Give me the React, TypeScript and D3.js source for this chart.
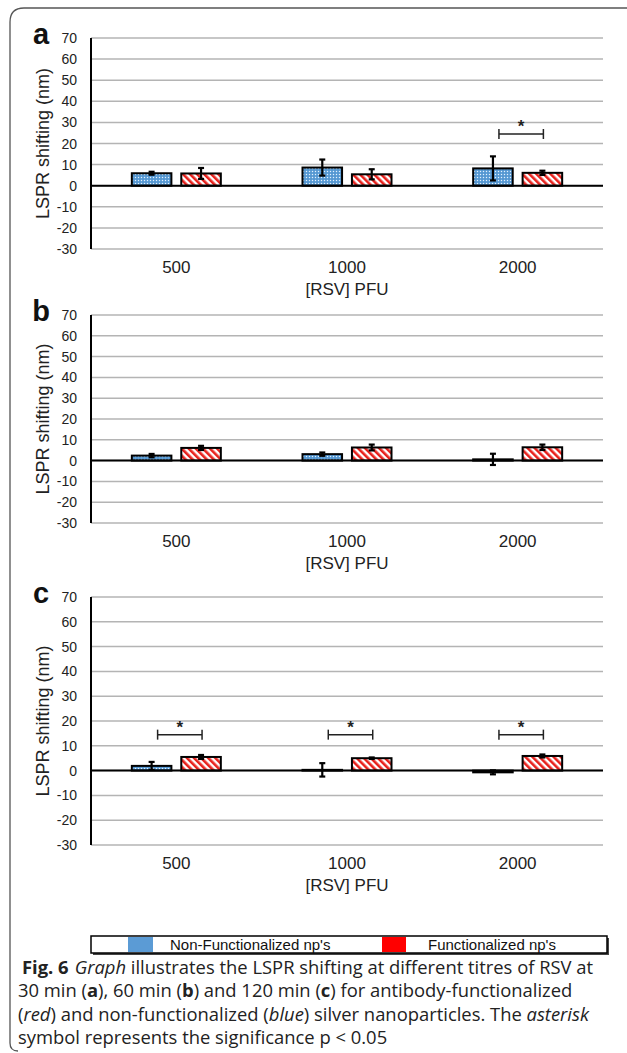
import React from "react";
import * as d3 from "d3";

const categories = ["500", "1000", "2000"];
const seriesNames = ["Non-Functionalized np's", "Functionalized np's"];
const yTicks = [70, 60, 50, 40, 30, 20, 10, 0, -10, -20, -30];

// Panel a (30 min)
const nonFuncA = [5.9, 8.6, 8.2];
const nonFuncAErr = [0.7, 3.8, 5.7];
const funcA = [5.8, 5.4, 6.1];
const funcAErr = [2.6, 2.4, 1.0];
const sigA = ["2000"];
const sigLevelA = 24.5;

// Panel b (60 min)
const nonFuncB = [2.4, 3.1, 0.6];
const nonFuncBErr = [0.8, 0.8, 2.7];
const funcB = [6.1, 6.3, 6.4];
const funcBErr = [1.0, 1.4, 1.3];
const sigB: string[] = [];
const sigLevelB = 0;

// Panel c (120 min)
const nonFuncC = [1.9, 0.3, -0.7];
const nonFuncCErr = [1.6, 2.7, 0.8];
const funcC = [5.5, 5.0, 5.9];
const funcCErr = [0.8, 0.3, 0.6];
const sigC = ["500", "1000", "2000"];
const sigLevelC = 14.5;

const panels = [
  { label: "a", top: 38, bottom: 249, nf: nonFuncA, nfe: nonFuncAErr, f: funcA, fe: funcAErr, sig: sigA, sigLevel: sigLevelA },
  { label: "b", top: 315, bottom: 523, nf: nonFuncB, nfe: nonFuncBErr, f: funcB, fe: funcBErr, sig: sigB, sigLevel: sigLevelB },
  { label: "c", top: 597, bottom: 845, nf: nonFuncC, nfe: nonFuncCErr, f: funcC, fe: funcCErr, sig: sigC, sigLevel: sigLevelC },
];

const FONT = "'Liberation Sans', Arial, Helvetica, sans-serif";
const CAP_FONT = "'Open Sans', 'Noto Sans', sans-serif";
const X0 = 91;
const X1 = 603;

function Panel({ p }: { p: (typeof panels)[number] }) {
  const x = d3.scaleBand<string>().domain(categories).range([X0, X1]).padding(0);
  const bw = x.bandwidth();
  const inner = d3
    .scaleBand<string>()
    .domain(seriesNames)
    .range([bw / 2 - 44.5, bw / 2 + 44.5])
    .paddingInner(0.2);
  const y = d3.scaleLinear().domain([-30, 70]).range([p.bottom, p.top]);
  const barW = inner.bandwidth();
  const rows = categories.map((c, i) => ({
    c,
    vals: [
      { s: seriesNames[0], v: p.nf[i], e: p.nfe[i], fill: "url(#dots)" },
      { s: seriesNames[1], v: p.f[i], e: p.fe[i], fill: "url(#stripes)" },
    ],
  }));
  const mid = (X0 + X1) / 2;
  return (
    <g>
      {yTicks.map((t) => (
        <line key={t} x1={X0} x2={X1} y1={y(t)} y2={y(t)} stroke="#b4b4b4" strokeWidth={1.5} />
      ))}
      {yTicks.map((t) => (
        <text key={"l" + t} x={77} y={y(t)} dy="0.36em" textAnchor="end" fontFamily={FONT} fontSize={14} fill="#222">
          {t}
        </text>
      ))}
      <text
        transform={`translate(43,${(p.top + p.bottom) / 2}) rotate(-90)`}
        textAnchor="middle"
        dy="0.35em"
        fontFamily={FONT}
        fontSize={18}
        fill="#222"
      >
        LSPR shifting (nm)
      </text>
      <text x={41} y={p.top + 6} textAnchor="middle" fontFamily={FONT} fontWeight="bold" fontSize={29} fill="#111">
        {p.label}
      </text>
      {rows.map((r) =>
        r.vals.map((d) => {
          const bx = (x(r.c) as number) + (inner(d.s) as number);
          const y0 = y(0);
          const yv = y(d.v);
          return (
            <rect
              key={r.c + d.s}
              x={bx}
              y={Math.min(y0, yv)}
              width={barW}
              height={Math.abs(y0 - yv)}
              fill={d.fill}
              stroke="#000"
              strokeWidth={2}
            />
          );
        })
      )}
      <line x1={X0} x2={X1} y1={y(0)} y2={y(0)} stroke="#000" strokeWidth={2} />
      {rows.map((r) =>
        r.vals.map((d) => {
          const cx = (x(r.c) as number) + (inner(d.s) as number) + barW / 2;
          const hi = y(d.v + d.e);
          const lo = y(d.v - d.e);
          return (
            <g key={"e" + r.c + d.s} stroke="#000" strokeWidth={2.2}>
              <line x1={cx} x2={cx} y1={hi} y2={lo} />
              <line x1={cx - 3} x2={cx + 3} y1={hi} y2={hi} />
              <line x1={cx - 3} x2={cx + 3} y1={lo} y2={lo} />
            </g>
          );
        })
      )}
      {p.sig.map((c) => {
        const xa = (x(c) as number) + (inner(seriesNames[0]) as number) + barW / 2 + 6;
        const xb = (x(c) as number) + (inner(seriesNames[1]) as number) + barW / 2 + 1;
        const yy = y(p.sigLevel);
        return (
          <g key={"s" + c}>
            <g stroke="#222" strokeWidth={1.5}>
              <line x1={xa} x2={xb} y1={yy} y2={yy} />
              <line x1={xa} x2={xa} y1={yy - 5} y2={yy + 5} />
              <line x1={xb} x2={xb} y1={yy - 5} y2={yy + 5} />
            </g>
            <text x={(xa + xb) / 2} y={yy - 2} textAnchor="middle" fontFamily={FONT} fontWeight="bold" fontSize={17} fill="#222">
              *
            </text>
          </g>
        );
      })}
      <line x1={X0} x2={X0} y1={p.top} y2={p.bottom} stroke="#000" strokeWidth={2} />
      {categories.map((c) => (
        <text
          key={"x" + c}
          x={(x(c) as number) + bw / 2}
          y={p.bottom + 24}
          textAnchor="middle"
          fontFamily={FONT}
          fontSize={17}
          fill="#222"
        >
          {c}
        </text>
      ))}
      <text x={mid} y={p.bottom + 46} textAnchor="middle" fontFamily={FONT} fontSize={17} fill="#222">
        [RSV] PFU
      </text>
    </g>
  );
}

export default function App() {
  React.useEffect(() => {
    document.body.style.margin = "0";
  }, []);
  const capY = 974;
  const lh = 23.3;
  const legY = 936;
  return (
    <svg width={627} height={1053} style={{ position: "absolute", left: 0, top: 0, background: "#fff" }}>
      <defs>
        <pattern id="dots" patternUnits="userSpaceOnUse" width={3} height={3}>
          <rect width={3} height={3} fill="#64a4db" />
          <rect x={0} y={0} width={1} height={1} fill="#e6f0fa" />
          <rect x={1.5} y={1.5} width={1} height={1} fill="#2f6fb0" />
        </pattern>
        <pattern id="stripes" patternUnits="userSpaceOnUse" width={5} height={5} patternTransform="rotate(-45)">
          <rect width={5} height={5} fill="#fff" />
          <rect width={2.6} height={5} fill="#e8211c" />
        </pattern>
      </defs>
      <rect x={0} y={0} width={627} height={1053} fill="#fff" />
      <path
        d="M 680 8 L 24 8 Q 10 8 10 22 L 10 1043 Q 10 1051 18 1051"
        fill="none"
        stroke="#555"
        strokeWidth={1.3}
      />
      {panels.map((p) => (
        <Panel key={p.label} p={p} />
      ))}
      {/* legend */}
      <rect x={93} y={legY + 2} width={516} height={17} fill="#444" />
      <rect x={91} y={legY} width={516} height={17} fill="#fff" stroke="#000" strokeWidth={1.5} />
      <rect x={128} y={legY + 1} width={25} height={15} fill="#5b9bd5" />
      <rect x={382} y={legY + 1} width={24} height={15} fill="#ff0000" />
      <text x={170} y={legY + 13.5} fontFamily={FONT} fontSize={15} fill="#111">
        {seriesNames[0]}
      </text>
      <text x={428} y={legY + 13.5} fontFamily={FONT} fontSize={15} fill="#111">
        {seriesNames[1]}
      </text>
      {/* caption */}
      <g fontFamily={CAP_FONT} fontSize={18.4} fill="#222">
        <text x={22} y={capY}>
          <tspan fontWeight="bold">Fig. 6</tspan>
          <tspan dx={6} fontStyle="italic">Graph</tspan>
          <tspan> illustrates the LSPR shifting at different titres of RSV at</tspan>
        </text>
        <text x={18} y={capY + lh}>
          <tspan>30 min (</tspan>
          <tspan fontWeight="bold">a</tspan>
          <tspan>), 60 min (</tspan>
          <tspan fontWeight="bold">b</tspan>
          <tspan>) and 120 min (</tspan>
          <tspan fontWeight="bold">c</tspan>
          <tspan>) for antibody-functionalized</tspan>
        </text>
        <text x={18} y={capY + 2 * lh}>
          <tspan>(</tspan>
          <tspan fontStyle="italic">red</tspan>
          <tspan>) and non-functionalized (</tspan>
          <tspan fontStyle="italic">blue</tspan>
          <tspan>) silver nanoparticles. The </tspan>
          <tspan fontStyle="italic">asterisk</tspan>
        </text>
        <text x={18} y={capY + 3 * lh}>
          symbol represents the significance p &lt; 0.05
        </text>
      </g>
    </svg>
  );
}
